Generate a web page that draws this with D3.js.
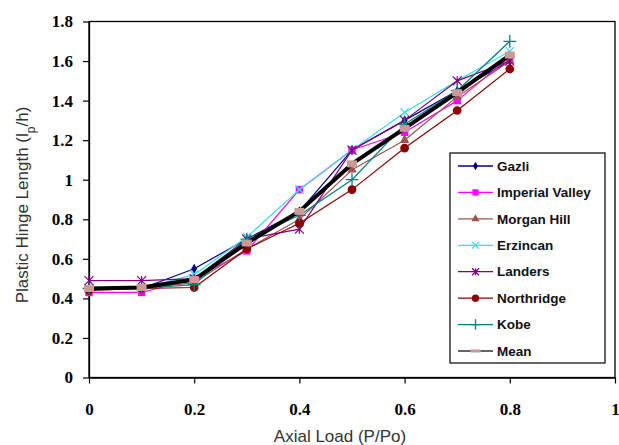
<!DOCTYPE html>
<html><head><meta charset="utf-8">
<script src="https://cdn.jsdelivr.net/npm/d3@7"></script>
<style>body{margin:0;background:#fff}svg{display:block}</style>
</head><body>
<script>
const xValues = [0, 0.1, 0.2, 0.3, 0.4, 0.5, 0.6, 0.7, 0.8];
const gazli      = [0.45, 0.45, 0.55, 0.70, 0.84, 1.15, 1.30, 1.45, 1.60];
const imperial   = [0.43, 0.43, 0.50, 0.64, 0.95, 1.15, 1.24, 1.40, 1.62];
const morganHill = [0.45, 0.45, 0.48, 0.65, 0.80, 1.05, 1.20, 1.42, 1.60];
const erzincan   = [0.45, 0.45, 0.52, 0.71, 0.95, 1.15, 1.34, 1.50, 1.65];
const landers    = [0.49, 0.49, 0.50, 0.70, 0.75, 1.15, 1.30, 1.50, 1.60];
const northridge = [0.44, 0.45, 0.455, 0.65, 0.78, 0.95, 1.16, 1.35, 1.56];
const kobe       = [0.45, 0.45, 0.47, 0.70, 0.82, 1.00, 1.28, 1.45, 1.70];
const mean       = [0.45, 0.455, 0.495, 0.68, 0.84, 1.08, 1.26, 1.44, 1.63];
const seriesNames = ["Gazli","Imperial Valley","Morgan Hill","Erzincan","Landers","Northridge","Kobe","Mean"];
const xTicks = [0, 0.2, 0.4, 0.6, 0.8, 1];
const yTicks = [0, 0.2, 0.4, 0.6, 0.8, 1, 1.2, 1.4, 1.6, 1.8];

const W = 619, H = 445;
const L = 89, R = 615, T = 21.5, B = 377.5;
const svg = d3.select("body").append("svg").attr("width", W).attr("height", H);
const x = d3.scaleLinear().domain([0, 1]).range([L, R]);
const y = d3.scaleLinear().domain([0, 1.8]).range([B, T]);

const styles = [
  {data: gazli, color: "#000080", sym: d3.symbolDiamond, size: 30, w: 1.2},
  {data: imperial, color: "#FF00FF", sym: d3.symbolSquare, size: 55, w: 1.2},
  {data: morganHill, color: "#A0524F", sym: d3.symbolTriangle, size: 40, w: 1.2},
  {data: erzincan, color: "#33DDEE", sym: d3.symbolTimes, size: 45, w: 1.2, stroke: true},
  {data: landers, color: "#800080", sym: "star", size: 45, w: 1.2, stroke: true},
  {data: northridge, color: "#8B0000", sym: d3.symbolCircle, size: 60, w: 1.2},
  {data: kobe, color: "#008080", sym: d3.symbolCross2 || d3.symbolPlus, size: 55, w: 1.2, stroke: true},
  {data: mean, color: "#000000", sym: "dash", size: 0, w: 4, mark: "#CC9999"}
];

// frame
svg.append("rect").attr("x", L).attr("y", T).attr("width", R - L).attr("height", B - T)
  .attr("fill", "none").attr("stroke", "#000").attr("stroke-width", 1.3);

// axes
const fontTick = "bold 17px 'Liberation Serif', 'Times New Roman', serif";
const xAxis = svg.append("g").attr("transform", `translate(0,${B})`)
  .call(d3.axisBottom(x).tickValues(xTicks).tickSize(6).tickSizeOuter(0).tickFormat(d3.format("")));
const yAxis = svg.append("g").attr("transform", `translate(${L},0)`)
  .call(d3.axisLeft(y).tickValues(yTicks).tickSize(6).tickSizeOuter(0).tickFormat(d => d3.format("")(+d.toFixed(1))));
[xAxis, yAxis].forEach(g => {
  g.select(".domain").attr("stroke", "#000").attr("stroke-width", 1.3);
  g.selectAll(".tick line").attr("stroke", "#000").attr("stroke-width", 1.2);
  g.selectAll(".tick text").style("font", fontTick).attr("fill", "#000");
});
xAxis.selectAll(".tick text").attr("dy", "0").attr("y", 37);
yAxis.selectAll(".tick text").attr("x", -16);

const line = d3.line().x((d, i) => x(xValues[i])).y(d => y(d));

function drawMarker(g, s, cx, cy, legend) {
  if (s.sym === "dash") {
    g.append("rect").attr("x", cx - 5).attr("y", cy - (legend ? 1.5 : 3.5)).attr("width", 10).attr("height", legend ? 3 : 7)
      .attr("fill", s.mark);
  } else if (s.sym === "star") {
    const r = legend ? 3.5 : 4.5;
    const p = d3.path();
    p.moveTo(cx - r, cy - r); p.lineTo(cx + r, cy + r);
    p.moveTo(cx + r, cy - r); p.lineTo(cx - r, cy + r);
    p.moveTo(cx, cy - r); p.lineTo(cx, cy + r);
    g.append("path").attr("d", p.toString()).attr("stroke", s.color).attr("stroke-width", 1.2).attr("fill", "none");
  } else {
    const sz = legend ? s.size * 0.7 : s.size;
    const path = g.append("path").attr("d", d3.symbol().type(s.sym).size(sz)())
      .attr("transform", `translate(${cx},${cy})`);
    if (s.stroke) path.attr("fill", "none").attr("stroke", s.color).attr("stroke-width", 1.3);
    else path.attr("fill", s.color);
  }
}

styles.forEach((s, k) => {
  const g = svg.append("g");
  g.append("path").datum(s.data).attr("d", line).attr("fill", "none")
    .attr("stroke", s.color).attr("stroke-width", s.w).attr("stroke-linejoin", "round");
  s.data.forEach((v, i) => drawMarker(g, s, x(xValues[i]), y(v), false));
});

// legend
const lg = svg.append("g");
lg.append("rect").attr("x", 450).attr("y", 153).attr("width", 155).attr("height", 210)
  .attr("fill", "#fff").attr("stroke", "#000").attr("stroke-width", 1.2);
const legendY = d3.scalePoint().domain(seriesNames).range([166, 351]);
styles.forEach((s, k) => {
  const yy = legendY(seriesNames[k]);
  lg.append("line").attr("x1", 458).attr("x2", 493).attr("y1", yy).attr("y2", yy)
    .attr("stroke", k === 7 ? "#333" : s.color).attr("stroke-width", 1.3);
  drawMarker(lg, s, 475.5, yy, true);
  lg.append("text").attr("x", 497).attr("y", yy).attr("dy", "0.35em")
    .style("font", "bold 13.5px 'Liberation Sans', Arial, sans-serif").attr("fill", "#111")
    .text(seriesNames[k]);
});

// axis titles
svg.append("text").attr("x", 340).attr("y", 442).attr("text-anchor", "middle")
  .style("font", "17px 'Liberation Sans', Arial, sans-serif").attr("fill", "#333")
  .text("Axial Load (P/Po)");
const yt = svg.append("text").attr("transform", "translate(28,205) rotate(-90)").attr("text-anchor", "middle")
  .style("font", "17px 'Liberation Sans', Arial, sans-serif").attr("fill", "#333");
yt.append("tspan").text("Plastic Hinge Length (l");
yt.append("tspan").attr("baseline-shift", "sub").style("font-size", "12px").text("p");
yt.append("tspan").text("/h)");
</script>
</body></html>
